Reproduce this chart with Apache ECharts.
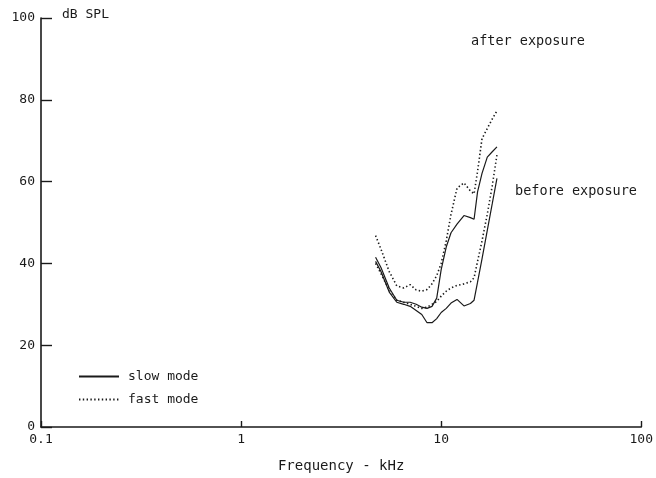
<!DOCTYPE html>
<html>
<head>
<meta charset="utf-8">
<script src="https://cdn.jsdelivr.net/npm/echarts@6/dist/echarts.min.js"></script>
<style>
  html, body { margin: 0; padding: 0; background: #fff; }
  #chart { width: 656px; height: 478px; }
</style>
</head>
<body>
<div id="chart"></div>
<script>
// Frequency points (kHz) shared by all four threshold curves
const freqKHz    = [4.7, 5.0, 5.5, 6.0, 6.5, 7.0, 7.5, 8.0, 8.5, 9.0, 9.5, 10.0, 10.6, 11.2, 12.0, 13.0, 14.0, 14.6, 15.2, 16.0, 17.0, 18.0, 19.0];
// Levels in dB SPL
const slowBefore = [40.5, 38.0, 33.0, 30.5, 30.0, 29.5, 28.5, 27.5, 25.5, 25.5, 26.5, 28.0, 29.0, 30.3, 31.2, 29.6, 30.2, 31.0, 35.4, 41.1, 48.1, 54.6, 60.8];
const slowAfter  = [41.5, 39.0, 34.0, 31.0, 30.5, 30.5, 30.0, 29.3, 29.0, 29.5, 31.5, 38.5, 44.0, 47.5, 49.6, 51.7, 51.2, 50.8, 57.5, 62.0, 66.0, 67.3, 68.5];
const fastBefore = [40.0, 37.5, 33.5, 31.0, 30.5, 30.0, 29.5, 29.0, 29.3, 30.0, 30.7, 32.0, 33.2, 34.0, 34.6, 35.0, 35.5, 36.5, 40.5, 45.5, 52.0, 59.0, 66.5];
const fastAfter  = [46.8, 43.5, 38.0, 34.5, 34.0, 34.8, 33.5, 33.2, 33.6, 35.0, 37.0, 40.0, 45.5, 52.0, 58.4, 59.7, 57.7, 57.0, 62.5, 70.5, 73.0, 75.3, 77.3];

const seriesNames = ['slow mode', 'fast mode'];
const curveLabels = ['after exposure', 'before exposure'];

const FONT = '"DejaVu Sans Mono", "Liberation Mono", monospace';
const INK = '#1a1a1a';

function pairs(vals) {
  return freqKHz.map((f, i) => [f, vals[i]]);
}

function curve(name, vals, dotted) {
  return {
    name: name,
    type: 'line',
    data: pairs(vals),
    showSymbol: false,
    symbol: 'none',
    silent: true,
    animation: false,
    itemStyle: { color: INK },
    lineStyle: {
      color: INK,
      width: dotted ? 1.6 : 1.2,
      type: dotted ? [1.4, 2.4] : 'solid'
    }
  };
}

const chart = echarts.init(document.getElementById('chart'), null, { renderer: 'canvas' });

chart.setOption({
  backgroundColor: '#ffffff',
  animation: false,
  grid: { left: 41, right: 6, top: 18, bottom: 45, containLabel: false },
  xAxis: {
    type: 'log',
    logBase: 10,
    min: 0.1,
    max: 100,
    name: 'Frequency - kHz',
    nameLocation: 'middle',
    nameGap: 32,
    nameTextStyle: { fontFamily: FONT, fontSize: 14, color: INK },
    axisLine: { show: true, lineStyle: { color: INK, width: 1.6 } },
    axisTick: { show: true, inside: true, length: 6, lineStyle: { color: INK, width: 1.4 } },
    minorTick: { show: false },
    splitLine: { show: false },
    axisLabel: { fontFamily: FONT, fontSize: 13, color: INK, margin: 6 }
  },
  yAxis: {
    type: 'value',
    min: 0,
    max: 100,
    interval: 20,
    axisLine: { show: true, lineStyle: { color: INK, width: 1.6 } },
    axisTick: { show: true, inside: true, length: 11, lineStyle: { color: INK, width: 1.4 } },
    splitLine: { show: false },
    axisLabel: { fontFamily: FONT, fontSize: 13, color: INK, margin: 6 }
  },
  legend: {
    show: true,
    data: seriesNames,
    orient: 'vertical',
    left: 78,
    top: 370,
    padding: 0,
    itemWidth: 40,
    itemHeight: 10,
    itemGap: 10,
    selectedMode: false,
    itemStyle: { opacity: 0 },
    textStyle: { fontFamily: FONT, fontSize: 13, color: INK, padding: [0, 0, 0, 4] }
  },
  graphic: [
    {
      type: 'text', left: 62, top: 8,
      style: { text: 'dB SPL', fontFamily: FONT, fontSize: 13, fill: INK }
    },
    {
      type: 'text', left: 471, top: 34,
      style: { text: curveLabels[0], fontFamily: FONT, fontSize: 13.5, fill: INK }
    },
    {
      type: 'text', left: 515, top: 184,
      style: { text: curveLabels[1], fontFamily: FONT, fontSize: 13.5, fill: INK }
    }
  ],
  series: [
    curve(seriesNames[0], slowBefore, false),
    curve(seriesNames[0], slowAfter, false),
    curve(seriesNames[1], fastBefore, true),
    curve(seriesNames[1], fastAfter, true)
  ]
});
</script>
</body>
</html>
